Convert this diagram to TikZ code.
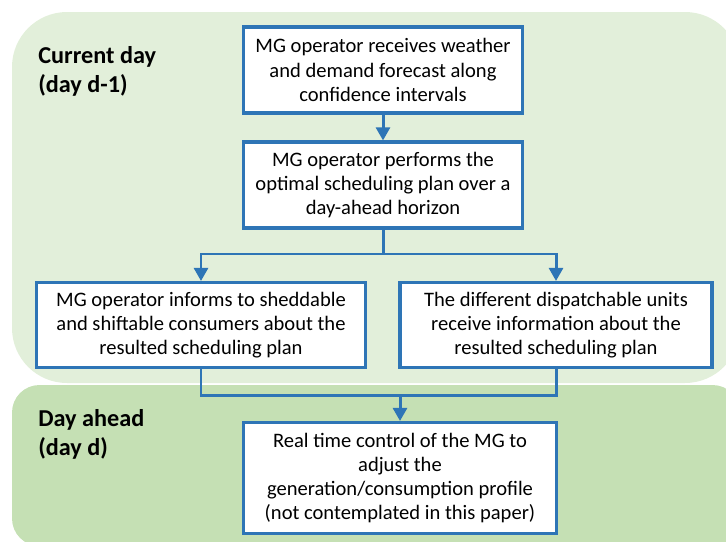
\documentclass[tikz,border=0pt]{standalone}
\usepackage{fontspec}
\setmainfont{Carlito}
\usetikzlibrary{arrows.meta}
\definecolor{daylight}{HTML}{E2EFDA}
\definecolor{dayahead}{HTML}{C5E0B4}
\definecolor{flowblue}{HTML}{2E75B6}
\begin{document}
\begin{tikzpicture}[x=0.02cm,y=-0.02cm,
  stepbox/.style={draw=flowblue,line width=1.9pt,fill=white,align=center,inner sep=0pt,
    font=\fontsize{11.7}{13.8}\selectfont},
  flow/.style={draw=flowblue,line width=1.7pt},
  tip/.style={-{Triangle[length=7.5pt,width=8pt]}},
  phase/.style={anchor=north west,align=left,inner sep=0pt,
    font=\fontsize{13.8}{16.5}\selectfont\bfseries}]
\clip (0,0) rectangle (726,541);
% the two phases
\fill[daylight,rounded corners=1.1cm] (12,12) rectangle (740,383);
\fill[dayahead,rounded corners=0.55cm] (12,385) rectangle (740,546);
\node[phase] (current) at (38,46) {Current day\\(day d-1)};
\node[phase] (ahead) at (38,409) {Day ahead\\(day d)};
% steps
\node[stepbox,minimum width=158.8pt,minimum height=48.8pt] (forecast) at (383,70)
  {MG operator receives weather\\and demand forecast along\\confidence intervals};
\node[stepbox,minimum width=158.8pt,minimum height=48.8pt] (schedule) at (383,185)
  {MG operator performs the\\optimal scheduling plan over a\\day-ahead horizon};
\node[stepbox,minimum width=187pt,minimum height=48.2pt] (consumers) at (201,325)
  {MG operator informs to sheddable\\and shiftable consumers about the\\resulted scheduling plan};
\node[stepbox,minimum width=177.5pt,minimum height=48.2pt] (units) at (556,325)
  {The different dispatchable units\\receive information about the\\resulted scheduling plan};
\node[stepbox,minimum width=178pt,minimum height=63pt] (control) at (400,478)
  {Real time control of the MG to\\adjust the\\generation/consumption profile\\(not contemplated in this paper)};
% connectors
\coordinate (split) at (383,254);
\coordinate (merge) at (400,395);
\draw[flow,tip] (forecast) -- (schedule);
\draw[flow] (schedule) -- (split);
\draw[flow,tip] (split) -| (consumers);
\draw[flow,tip] (split) -| (units);
\draw[flow] (consumers) |- (merge) -| (units);
\draw[flow,tip] (merge) -- (control);
\end{tikzpicture}
\end{document}
